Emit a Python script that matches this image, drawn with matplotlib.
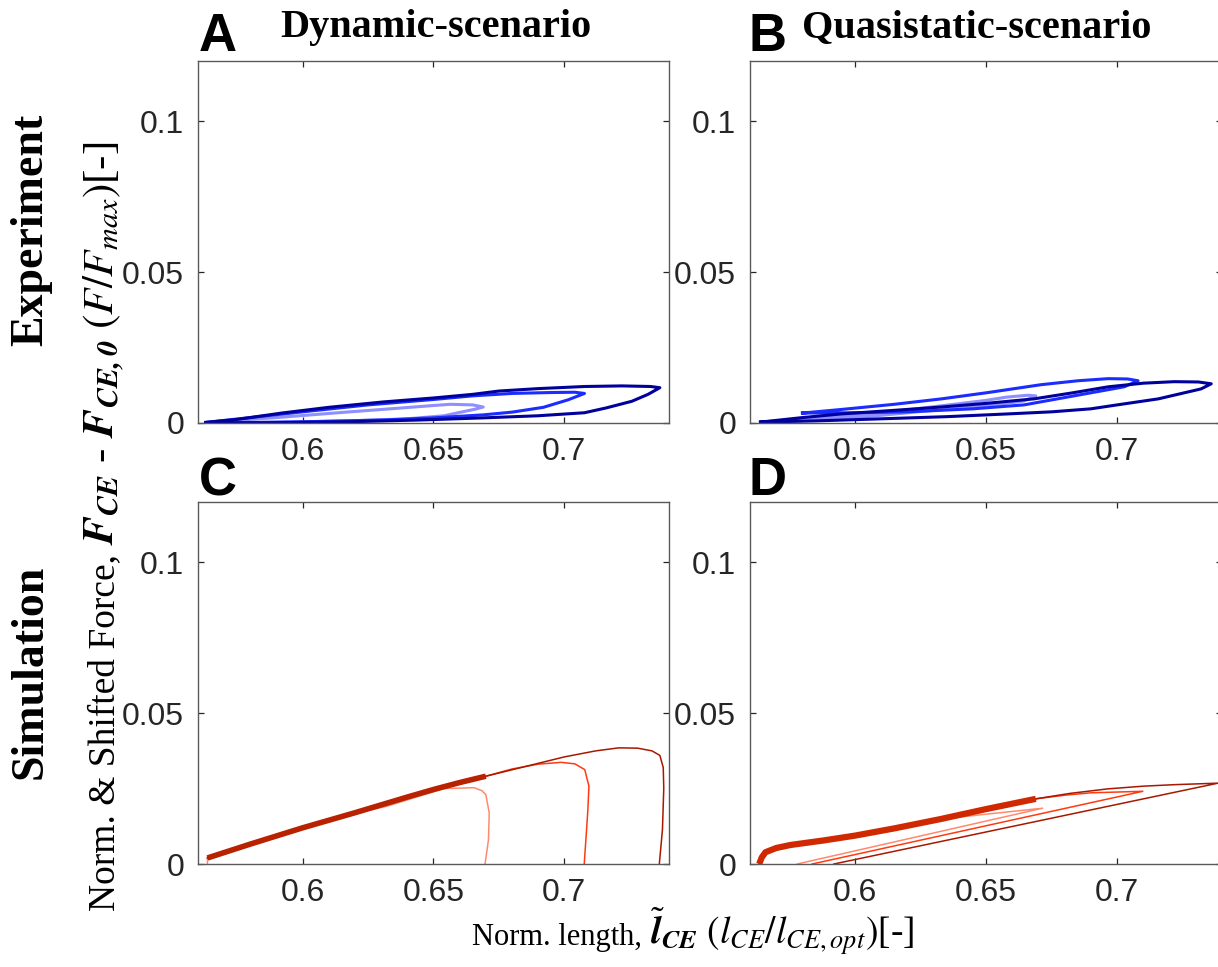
import matplotlib
matplotlib.use("Agg")
from matplotlib import pyplot as plt

# ---------------- data ----------------
# Panel A: experiment, dynamic scenario (three loops)
a_light_x = [0.563, 0.59, 0.615, 0.635, 0.65, 0.6565, 0.665, 0.669, 0.666, 0.66, 0.654, 0.64, 0.618, 0.59, 0.563]
a_light_y = [0.0002, 0.0018, 0.0035, 0.0048, 0.0058, 0.0062, 0.0060, 0.0053, 0.0046, 0.0035, 0.0024, 0.0014, 0.0007, 0.0002, 0.0]
a_mid_x = [0.563, 0.58, 0.60, 0.625, 0.65, 0.665, 0.68, 0.695, 0.704, 0.7077, 0.7015, 0.692, 0.68, 0.669, 0.65, 0.631, 0.60, 0.563]
a_mid_y = [0.0002, 0.0018, 0.0037, 0.0060, 0.0078, 0.0090, 0.0098, 0.0101, 0.0102, 0.0098, 0.0077, 0.0052, 0.0036, 0.0027, 0.0017, 0.0010, 0.0004, 0.0]
a_dark_x = [0.563, 0.575, 0.592, 0.61, 0.631, 0.65, 0.665, 0.675, 0.69, 0.7077, 0.722, 0.733, 0.7365, 0.732, 0.7258, 0.716, 0.7077, 0.69, 0.669, 0.645, 0.618, 0.59, 0.563]
a_dark_y = [0.0002, 0.0012, 0.0033, 0.0052, 0.0070, 0.0083, 0.0095, 0.0106, 0.0114, 0.0121, 0.0123, 0.0121, 0.0117, 0.0095, 0.0072, 0.0050, 0.0034, 0.0024, 0.0017, 0.0010, 0.0004, 0.0001, 0.0]

# Panel B: experiment, quasistatic scenario
b_light_x = [0.564, 0.585, 0.607, 0.633, 0.65, 0.658, 0.666, 0.669, 0.6645, 0.655, 0.645, 0.625, 0.607, 0.585, 0.564]
b_light_y = [0.0003, 0.0018, 0.0030, 0.0057, 0.0075, 0.0086, 0.0092, 0.0090, 0.0073, 0.0062, 0.0053, 0.0038, 0.0023, 0.0010, 0.0002]
b_mid_x = [0.58, 0.595, 0.615, 0.633, 0.65, 0.671, 0.685, 0.6966, 0.704, 0.708, 0.7027, 0.6836, 0.6645, 0.645, 0.62, 0.60, 0.58]
b_mid_y = [0.0033, 0.0045, 0.0062, 0.0080, 0.0100, 0.0127, 0.0140, 0.0147, 0.0146, 0.0140, 0.0120, 0.0090, 0.0060, 0.0047, 0.0037, 0.0034, 0.0033]
b_dark_x = [0.564, 0.58, 0.5947, 0.615, 0.633, 0.65, 0.6683, 0.683, 0.6966, 0.71, 0.7218, 0.731, 0.7359,
            0.732, 0.7157, 0.70, 0.690, 0.675, 0.658, 0.635, 0.607, 0.585, 0.564]
b_dark_y = [0.0003, 0.0018, 0.0030, 0.0042, 0.0053, 0.0065, 0.0080, 0.0100, 0.0120, 0.0132, 0.0137, 0.0136, 0.0130,
            0.0113, 0.0080, 0.0060, 0.0047, 0.0037, 0.0030, 0.0021, 0.0013, 0.0007, 0.0003]

# Panel C: simulation, dynamic scenario
c_ramp_x = [0.5636, 0.58, 0.60, 0.62, 0.64, 0.65, 0.66, 0.670]
c_ramp_y = [0.0020, 0.0066, 0.0120, 0.0170, 0.0222, 0.0247, 0.0270, 0.0291]
c_light_x = [0.5636, 0.5636, 0.58, 0.60, 0.62, 0.632, 0.645, 0.654, 0.6655, 0.6685, 0.670, 0.6713, 0.671, 0.6697]
c_light_y = [0.0, 0.0020, 0.0066, 0.0120, 0.0168, 0.0191, 0.0226, 0.0250, 0.0253, 0.0243, 0.0230, 0.0169, 0.0080, 0.0]
c_mid_x = c_ramp_x + [0.68, 0.69, 0.6988, 0.704, 0.7078, 0.7094, 0.7090, 0.7085, 0.7076]
c_mid_y = c_ramp_y + [0.0315, 0.0331, 0.0337, 0.0332, 0.0313, 0.0258, 0.0180, 0.0114, 0.0]
c_dark_x = c_ramp_x + [0.685, 0.70, 0.712, 0.7208, 0.728, 0.7335, 0.7365, 0.7378, 0.738, 0.7375, 0.7363]
c_dark_y = c_ramp_y + [0.0323, 0.0355, 0.0375, 0.0385, 0.0384, 0.0375, 0.0360, 0.0320, 0.0250, 0.0114, 0.0]

# Panel D: simulation, quasistatic scenario
d_ramp_x = [0.5635, 0.5645, 0.5659, 0.570, 0.5754, 0.588, 0.60, 0.615, 0.6327, 0.65, 0.669]
d_ramp_y = [0.0, 0.0022, 0.0039, 0.0053, 0.0063, 0.0078, 0.0094, 0.0118, 0.0149, 0.0182, 0.0216]
d_light_x = d_ramp_x[:9] + [0.6716, 0.578]
d_light_y = d_ramp_y[:9] + [0.0185, 0.0]
d_mid_x = d_ramp_x + [0.680, 0.690, 0.7098, 0.5837]
d_mid_y = d_ramp_y + [0.0228, 0.0236, 0.0241, 0.0]
d_dark_x = d_ramp_x + [0.682, 0.6964, 0.71, 0.7219, 0.7385, 0.592]
d_dark_y = d_ramp_y + [0.0234, 0.0249, 0.0258, 0.0263, 0.0268, 0.0]

xticks = [0.6, 0.65, 0.7]
xtick_labels = ["0.6", "0.65", "0.7"]
yticks = [0, 0.05, 0.1]
ytick_labels = ["0", "0.05", "0.1"]

blues = ["#8f8fff", "#1a2cff", "#00009c"]
reds = ["#ff8a70", "#ff3a10", "#a81800"]

# ---------------- figure ----------------
plt.rcParams["font.family"] = ["Liberation Sans", "DejaVu Sans"]
plt.rcParams["mathtext.fontset"] = "stix"

fig = plt.figure(figsize=(12.18, 9.67), dpi=100)
W, H = 1218.0, 967.0


def make_axes(left_px, top_px, width_px, height_px):
    ax = fig.add_axes([left_px / W, 1 - (top_px + height_px) / H, width_px / W, height_px / H])
    ax.set_xlim(0.56, 0.74)
    ax.set_ylim(0, 0.12)
    ax.set_xticks(xticks)
    ax.set_xticklabels(xtick_labels)
    ax.set_yticks(yticks)
    ax.set_yticklabels(ytick_labels)
    ax.tick_params(direction="in", length=4, width=0.9, top=True, right=True,
                   labelsize=23, labelcolor="#262626", color="#262626", pad=10)
    for s in ax.spines.values():
        s.set_color("#5a5a5a")
        s.set_linewidth(1.0)
    return ax


axA = make_axes(198, 61, 471, 362)
axB = make_axes(750, 61, 472, 362)
axC = make_axes(198, 502, 471, 362)
axD = make_axes(750, 502, 472, 362)

# experiment loops
for ax, curves in [(axA, [(a_light_x, a_light_y), (a_mid_x, a_mid_y), (a_dark_x, a_dark_y)]),
                   (axB, [(b_light_x, b_light_y), (b_mid_x, b_mid_y), (b_dark_x, b_dark_y)])]:
    for (cx, cy), col in zip(curves, blues):
        ax.plot(cx, cy, color=col, lw=2.2, solid_joinstyle="round")

# simulation loops
for (cx, cy), col in zip([(c_light_x, c_light_y), (c_mid_x, c_mid_y), (c_dark_x, c_dark_y)], reds):
    axC.plot(cx, cy, color=col, lw=1.1)
axC.plot(c_ramp_x, c_ramp_y, color="#b82200", lw=4.0, solid_capstyle="butt")

for (cx, cy), col in zip([(d_light_x, d_light_y), (d_mid_x, d_mid_y), (d_dark_x, d_dark_y)], reds):
    axD.plot(cx, cy, color=col, lw=1.1)
axD.plot(d_ramp_x, d_ramp_y, color="#d02800", lw=4.5, solid_capstyle="butt")

# panel letters and titles
letter_kw = dict(fontsize=38, fontweight="bold", va="center", ha="left", family="Liberation Sans")
fig.text(199 / W, 1 - 37 / H, "A", **letter_kw)
fig.text(749 / W, 1 - 37 / H, "B", **letter_kw)
fig.text(199 / W, 1 - 481 / H, "C", **letter_kw)
fig.text(749 / W, 1 - 481 / H, "D", **letter_kw)

title_kw = dict(fontsize=29, fontweight="bold", va="center", ha="center", family="Liberation Serif")
fig.text(436 / W, 1 - 28 / H, "Dynamic-scenario", **title_kw)
fig.text(977 / W, 1 - 28 / H, "Quasistatic-scenario", **title_kw)

row_kw = dict(fontsize=33, fontweight="bold", va="center", ha="center", rotation=90, family="Liberation Serif")
fig.text(31 / W, 1 - 230 / H, "Experiment", **row_kw)
fig.text(31 / W, 1 - 672 / H, "Simulation", **row_kw)

# y label: plain part and math part anchored on a shared baseline
lab_kw = dict(rotation=90, rotation_mode="anchor", va="baseline", family="Liberation Serif")
fig.text(114 / W, 1 - 545 / H, "Norm. & Shifted Force, ", fontsize=27, ha="right", **lab_kw)
fig.text(114 / W, 1 - 545 / H,
         r"$\mathbfit{F}_{\mathbfit{CE}}$ - $\mathbfit{F}_{\mathbfit{CE,0}}\ (F/F_{max})$[-]",
         fontsize=31, ha="left", **lab_kw)

# x label
xl_kw = dict(va="baseline", family="Liberation Serif")
fig.text(650 / W, 1 - 945 / H, "Norm. length, ", fontsize=22, ha="right", **xl_kw)
fig.text(650 / W, 1 - 945 / H,
         r"$\tilde{\mathbfit{l}}_{\mathbfit{CE}}\ (l_{CE}/l_{CE,opt})$[-]",
         fontsize=27, ha="left", **xl_kw)

fig.savefig("out.png", dpi=100)
